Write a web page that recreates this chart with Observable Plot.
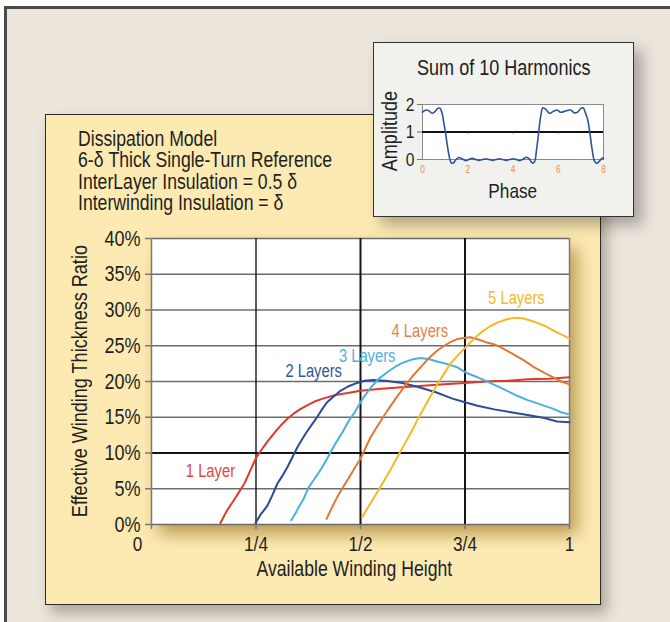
<!DOCTYPE html>
<html><head><meta charset="utf-8">
<script src="https://cdn.jsdelivr.net/npm/d3@7"></script>
<script src="https://cdn.jsdelivr.net/npm/@observablehq/plot@0.6"></script>
<style>
body{margin:0;background:#fff;}
#root{position:relative;width:670px;height:622px;overflow:hidden;background:#fff;font-family:"Liberation Sans",Arial,sans-serif;color:#231f20;}
.abs{position:absolute;box-sizing:border-box;}
.nc{display:inline-block;transform:scaleX(0.82);transform-origin:center center;white-space:nowrap;}
.ncl{display:inline-block;transform:scaleX(0.82);transform-origin:left top;white-space:nowrap;}
</style></head><body>
<div id="root">
  <div class="abs" style="left:4px;top:6px;width:720px;height:720px;background:#ece5dc;border:3px solid #4a4a4a;"></div>
  <div class="abs" style="left:45px;top:114px;width:556px;height:491px;background:#fdeab3;border:1.5px solid #2a2a2a;box-shadow:6px 8px 12px rgba(60,50,30,.35);"></div>
  <div class="abs" style="left:151px;top:238px;width:418px;height:286px;box-shadow:8px 10px 16px rgba(140,100,20,.6);"></div>
  <div id="main" class="abs" style="left:45px;top:114px;"></div>
  <div class="abs" style="left:78px;top:129px;width:180px;font-size:21.5px;line-height:21.3px;white-space:nowrap;"><span class="ncl">Dissipation Model<br>6-δ Thick Single-Turn Reference<br>InterLayer Insulation = 0.5 δ<br>Interwinding Insulation = δ</span></div>
  <div class="abs" style="left:-120px;top:370px;width:400px;height:22px;font-size:22px;line-height:22px;text-align:center;transform:rotate(-90deg);"><span class="nc">Effective Winding Thickness Ratio</span></div>
  <div class="abs" style="left:154px;top:558px;width:400px;font-size:21.5px;line-height:22px;text-align:center;"><span class="nc">Available Winding Height</span></div>
  <div class="abs" style="left:373px;top:42px;width:261px;height:175px;background:#f1f1ed;border:1.5px solid #333;box-shadow:8px 8px 14px rgba(0,0,0,.3);"></div>
  <div id="inset" class="abs" style="left:373px;top:42px;"></div>
  <div class="abs" style="left:373px;top:57px;width:261px;font-size:22px;line-height:22px;text-align:center;"><span class="nc">Sum of 10 Harmonics</span></div>
  <div class="abs" style="left:413px;top:180px;width:200px;font-size:21px;line-height:22px;text-align:center;"><span class="nc">Phase</span></div>
  <div class="abs" style="left:290px;top:120px;width:200px;height:22px;font-size:22px;line-height:22px;text-align:center;transform:rotate(-90deg);"><span class="nc">Amplitude</span></div>
</div>
<script>
// ---- main chart data (x = fraction of available winding height, y = % ratio)
const layerNames = ["1 Layer", "2 Layers", "3 Layers", "4 Layers", "5 Layers"];
const layer1X = [0.165,0.18,0.197,0.21,0.222,0.236,0.25,0.265,0.28,0.295,0.31,0.325,0.34,0.355,0.37,0.39,0.41,0.44,0.47,0.5,0.55,0.6,0.65,0.7,0.75,0.8,0.85,0.9,0.95,1.0];
const layer1Y = [0.2,1.9,3.4,4.6,5.7,7.5,9.3,10.6,11.8,12.9,13.9,14.8,15.5,16.1,16.6,17.2,17.6,18.1,18.4,18.7,19.0,19.2,19.4,19.6,19.8,20.0,20.1,20.3,20.4,20.6];
const layer2X = [0.249,0.26,0.277,0.29,0.301,0.313,0.325,0.337,0.349,0.36,0.372,0.384,0.396,0.408,0.42,0.436,0.452,0.47,0.492,0.51,0.53,0.56,0.6,0.64,0.68,0.72,0.75,0.78,0.82,0.86,0.9,0.94,0.97,1.0];
const layer2Y = [0.2,1.3,2.6,4.2,5.7,6.8,8.0,9.4,10.8,11.9,13.0,14.0,15.0,16.1,17.1,17.9,18.7,19.3,19.8,20.1,20.2,20.1,19.8,19.2,18.5,17.6,17.1,16.6,16.1,15.7,15.3,14.9,14.4,14.3];
const layer3X = [0.334,0.343,0.352,0.364,0.376,0.39,0.404,0.418,0.431,0.444,0.458,0.471,0.484,0.497,0.51,0.524,0.544,0.564,0.584,0.604,0.625,0.644,0.665,0.683,0.71,0.731,0.75,0.78,0.81,0.84,0.875,0.9,0.93,0.96,0.98,1.0];
const layer3Y = [0.6,1.4,2.4,3.6,5.2,6.4,7.6,9.0,10.4,11.7,13.0,14.4,15.5,16.8,18.0,19.1,20.4,21.3,22.1,22.7,23.1,23.3,23.1,22.8,22.4,22.0,21.3,20.6,19.8,19.0,18.0,17.4,16.8,16.2,15.7,15.4];
const layer4X = [0.419,0.431,0.444,0.458,0.472,0.486,0.5,0.512,0.524,0.544,0.564,0.584,0.604,0.624,0.644,0.664,0.683,0.7,0.715,0.73,0.747,0.763,0.78,0.8,0.82,0.835,0.86,0.89,0.915,0.94,0.96,0.98,1.0];
const layer4Y = [0.8,2.3,3.8,5.2,6.5,7.9,9.2,10.7,12.2,14.1,15.9,17.6,19.2,20.7,22.0,23.3,24.3,25.0,25.5,25.9,26.1,26.2,25.9,25.5,25.2,24.8,24.0,23.0,22.0,21.2,20.6,20.0,19.6];
const layer5X = [0.504,0.52,0.54,0.556,0.572,0.588,0.604,0.62,0.636,0.651,0.667,0.683,0.7,0.715,0.735,0.755,0.775,0.794,0.812,0.83,0.85,0.867,0.89,0.914,0.94,0.962,0.98,1.0];
const layer5Y = [1.0,2.6,4.5,6.1,7.7,9.4,11.1,12.8,14.6,16.2,17.9,19.5,21.1,22.5,23.8,25.0,26.2,27.1,27.8,28.3,28.7,28.9,28.8,28.4,27.8,27.1,26.6,26.0];
// curve label anchors (data units)
const labelX = [0.141, 0.388, 0.516, 0.642, 0.873];
const labelY = [7.4, 21.5, 23.5, 27.0, 31.6];
// axis ticks
const xTicks = [0, 0.25, 0.5, 0.75, 1];
const xTickLabels = ["0", "1/4", "1/2", "3/4", "1"];
const yTicks = [0, 5, 10, 15, 20, 25, 30, 35, 40];

// ---- inset data
const phase = [0,0.1,0.2,0.3,0.42,0.55,0.68,0.78,0.86,0.94,1.02,1.1,1.18,1.27,1.36,1.48,1.62,1.76,1.9,2.05,2.2,2.35,2.5,2.65,2.8,2.95,3.1,3.25,3.4,3.55,3.7,3.85,4.0,4.15,4.3,4.45,4.6,4.72,4.85,4.95,5.04,5.13,5.22,5.32,5.45,5.62,5.8,5.95,6.1,6.25,6.4,6.55,6.7,6.85,7.0,7.1,7.2,7.3,7.4,7.5,7.6,7.7,7.82,7.95,8.0];
const amplitude = [1.72,1.78,1.8,1.76,1.68,1.74,1.86,1.86,1.7,1.35,0.95,0.5,0.12,-0.12,-0.13,0.0,0.07,0.02,-0.04,0.0,0.04,0.0,-0.03,0.0,0.03,0.0,-0.03,0.0,0.03,0.0,-0.03,0.0,0.03,0.0,-0.04,0.02,0.08,0.02,-0.13,-0.08,0.35,0.95,1.55,1.88,1.82,1.68,1.76,1.8,1.72,1.74,1.78,1.8,1.7,1.72,1.86,1.88,1.7,1.45,0.95,0.35,-0.05,-0.14,-0.06,0.05,0.04];
const insetXTicks = [0, 2, 4, 6, 8];
const insetYTicks = [0, 1, 2];

// ---- styling (not data)
const lineColors = ["#e2382b", "#2c4a9a", "#4bb1db", "#e37732", "#f6b823"];
const labelColors = ["#e0473c", "#34529e", "#4fb2da", "#e8804a", "#f5b92e"];
const FONT = '"Liberation Sans",Arial,sans-serif';

const xs = [layer1X, layer2X, layer3X, layer4X, layer5X];
const ys = [layer1Y, layer2Y, layer3Y, layer4Y, layer5Y];
const rows = layerNames.flatMap((name, i) => xs[i].map((x, j) => ({layer: name, x, y: ys[i][j]})));
const labels = layerNames.map((name, i) => ({layer: name, x: labelX[i], y: labelY[i], color: labelColors[i]}));
const gridGray = yTicks.filter(d => d !== 10);

// horizontally condense SVG text (Arial -> Arial Narrow look)
function condense(svg, k) {
  svg.querySelectorAll("text").forEach(t => {
    const w = t.getComputedTextLength();
    if (w > 0) {
      t.setAttribute("textLength", (w * k).toFixed(2));
      t.setAttribute("lengthAdjust", "spacingAndGlyphs");
    }
  });
}

const main = Plot.plot({
  width: 556, height: 491,
  marginLeft: 106, marginRight: 32, marginTop: 124, marginBottom: 81,
  style: {background: "transparent", fontFamily: FONT, fontSize: "22px", color: "#231f20", overflow: "visible"},
  x: {domain: [0, 1]},
  y: {domain: [0, 40]},
  color: {domain: layerNames, range: lineColors},
  marks: [
    Plot.frame({fill: "white", stroke: null}),
    Plot.ruleY(gridGray, {stroke: "#6c6c6c", strokeWidth: 1.5}),
    Plot.ruleY([10], {stroke: "#151515", strokeWidth: 2.2}),
    Plot.ruleX([0, 1], {stroke: "#7a7a7a", strokeWidth: 1.5}),
    Plot.ruleX([0.25], {stroke: "#151515", strokeWidth: 1.4}),
    Plot.ruleX([0.5, 0.75], {stroke: "#151515", strokeWidth: 2}),
    Plot.line(rows, {x: "x", y: "y", z: "layer", stroke: "layer", strokeWidth: 2, strokeLinejoin: "round"}),
    Plot.text(labels, {x: "x", y: "y", text: "layer", fill: d => d.color, fontSize: 18}),
    Plot.axisY({ticks: yTicks, tickFormat: d => d + "%", tickSize: 6, tickPadding: 5, label: null, stroke: "#777", strokeWidth: 1.5}),
    Plot.axisX({ticks: xTicks, tickFormat: d => d === 0 ? "" : xTickLabels[xTicks.indexOf(d)], tickSize: 5, tickPadding: 7, fontSize: 21, label: null, stroke: "#777", strokeWidth: 1.5}),
    Plot.axisX({ticks: [0], tickFormat: () => xTickLabels[0], tickSize: 0, tickPadding: 12, dx: -14, fontSize: 21, label: null})
  ]
});
document.getElementById("main").appendChild(main);
condense(main, 0.82);

const inset = Plot.plot({
  width: 261, height: 175,
  marginLeft: 49, marginRight: 31, marginTop: 62, marginBottom: 58,
  style: {background: "transparent", fontFamily: FONT, fontSize: "17px", color: "#231f20", overflow: "visible"},
  x: {domain: [0, 8]},
  y: {domain: [0, 2]},
  marks: [
    Plot.frame({fill: "white", stroke: "#8a8a8a", strokeWidth: 1}),
    Plot.ruleY([1], {stroke: "#111", strokeWidth: 2}),
    Plot.ruleX(insetXTicks.slice(1, 4), {y1: 1, y2: 0.93, stroke: "#333", strokeWidth: 1}),
    Plot.line(phase.map((p, i) => ({p, a: amplitude[i]})), {x: "p", y: "a", stroke: "#2f51a0", strokeWidth: 1.6, curve: "catmull-rom"}),
    Plot.axisY({ticks: insetYTicks, tickFormat: d => String(d), tickSize: 5, tickPadding: 3, fontSize: 19, label: null, stroke: "#777"}),
    Plot.axisX({ticks: insetXTicks, tickFormat: d => String(d), tickSize: 0, tickPadding: 6, fontSize: 10, fill: "#ec8a52", label: null})
  ]
});
document.getElementById("inset").appendChild(inset);
condense(inset, 0.82);
</script>
</body></html>
